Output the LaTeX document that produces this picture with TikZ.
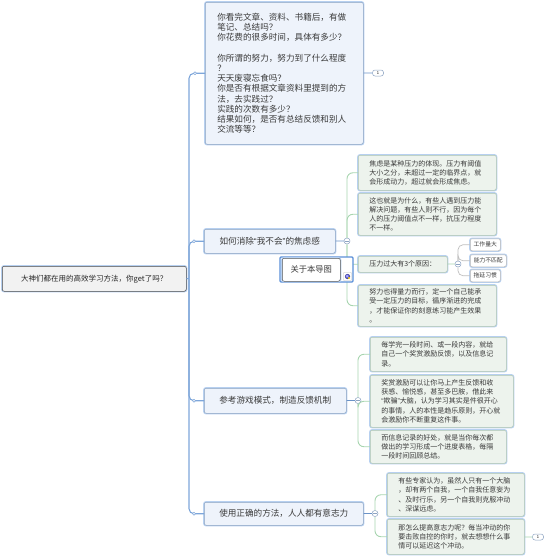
\documentclass[tikz,border=0pt]{standalone}
\usepackage{fontspec}
\setmainfont{Noto Sans CJK SC}
\newfontfamily\quotefont{Liberation Sans}
\newcommand{\openq}{{\quotefont “}}
\newcommand{\closeq}{{\quotefont ”}}
\usetikzlibrary{calc}

\definecolor{halo}{HTML}{B7D0F0}
\definecolor{topicline}{HTML}{8DA4C2}
\definecolor{topicfill}{HTML}{EEF3FB}
\definecolor{ideafill}{HTML}{EDF3ED}
\definecolor{idealine}{HTML}{B2C8B2}
\definecolor{rootfill}{HTML}{F2F2F2}
\definecolor{trunkblue}{HTML}{7EA6DA}
\definecolor{stemblue}{HTML}{6B93C8}
\definecolor{twiggreen}{HTML}{A8D5B0}
\definecolor{inkgray}{HTML}{3A3A3A}
\definecolor{selectblue}{HTML}{5A8FD8}

\begin{document}
\begin{tikzpicture}[x=1pt,y=-1pt,
  box/.style={rounded corners=2pt, line width=0.5pt,
    preaction={draw=halo, line width=2.4pt},
    anchor=north west, inner sep=0pt, text=inkgray},
  topic/.style={box, draw=topicline, fill=topicfill,
    font=\fontsize{8.6}{10.2}\selectfont},
  idea/.style={box, draw=idealine, fill=ideafill, align=left,
    inner xsep=11pt, font=\fontsize{7}{9.2}\selectfont},
  leaf/.style={box, draw=gray!55, fill=white, minimum height=12pt,
    font=\fontsize{5.8}{7}\selectfont},
  fold/.style={circle, draw=topicline, fill=white, line width=0.5pt,
    minimum size=6pt, inner sep=0pt,
    path picture={\draw[line width=0.5pt]
      ([xshift=1.4pt]path picture bounding box.west) --
      ([xshift=-1.4pt]path picture bounding box.east);}},
  count/.style={rounded corners=2.5pt, draw=topicline, fill=white,
    line width=0.5pt, minimum width=11pt, minimum height=6pt,
    inner sep=0pt, font=\fontsize{4}{4}\selectfont},
  trunk/.style={draw=trunkblue, line width=1.1pt},
  stem/.style={draw=stemblue, line width=0.8pt},
  twig/.style={draw=twiggreen, line width=0.9pt, rounded corners=6pt},
  sprig/.style={draw=gray!50, line width=0.7pt, rounded corners=5pt}
]
\useasboundingbox (0,0) rectangle (554,557);

% Root
\node[box, draw=gray!60!black, fill=rootfill, minimum width=184pt,
  minimum height=25pt, font=\fontsize{7.5}{9}\selectfont,
  text=gray!30!black] (root) at (2,266) {大神们都在用的高效学习方法，你get了吗？};

% Main branches
\node[topic, align=left, text width=134pt, inner xsep=12pt,
  minimum height=142pt] (b1) at (205,2) {你看完文章、资料、书籍后，有做\\
笔记、总结吗？\\
你花费的很多时间，具体有多少？\\[10.2pt]
你所谓的努力，努力到了什么程度\\
？\\
天天废寝忘食吗？\\
你是否有根据文章资料里提到的方\\
法，去实践过？\\
实践的次数有多少？\\
结果如何，是否有总结反馈和别人\\
交流等等？};
\node[topic, minimum width=131pt, minimum height=24pt] (b2) at (204,229)
  {如何消除\openq 我不会\closeq 的焦虑感};
\node[topic, minimum width=142pt, minimum height=25pt] (b3) at (204,388)
  {参考游戏模式，制造反馈机制};
\node[topic, minimum width=159pt, minimum height=23pt] (b4) at (204,502)
  {使用正确的方法，人人都有意志力};

% Folds
\node[fold] (fold2) at (347,241) {};
\node[fold] (fold3) at (358,400.5) {};
\node[fold] (fold4) at (375,513.5) {};
\node[fold] (foldc) at (458,264) {};
\node[count] (m1) at (378,73) {1};
\node[count] (m2) at (538,537) {1};

% Ideas under branch 2
\node[idea, text width=116pt, minimum height=35pt] (c1) at (358,155)
  {焦虑是某种压力的体现。压力有阈值\\
大小之分，未超过一定的临界点，就\\
会形成动力，超过就会形成焦虑。};
\node[idea, text width=116pt, minimum height=42pt] (c2) at (358,193)
  {这也就是为什么，有些人遇到压力能\\
解决问题，有些人则不行，因为每个\\
人的压力阈值点不一样，抗压力程度\\
不一样。};
\node[idea, text width=67pt, minimum height=16pt] (c3) at (358,256)
  {压力过大有3个原因：};
\node[idea, text width=116pt, minimum height=41pt] (c4) at (358,285)
  {努力也得量力而行，定一个自己能承\\
受一定压力的目标，循序渐进的完成\\
，才能保证你的刻意练习能产生效果\\
。};

% Causes
\node[leaf, minimum width=30pt] (l1) at (470,238.5) {工作量大};
\node[leaf, minimum width=36pt] (l2) at (470,254.5) {能力不匹配};
\node[leaf, minimum width=30pt] (l3) at (470,269.5) {拖延习惯};

% Ideas under branch 3
\node[idea, text width=114pt, minimum height=34pt] (d1) at (370,337)
  {每学完一段时间、或一段内容，就给\\
自己一个奖赏激励反馈，以及信息记\\
录。};
\node[idea, text width=121pt, minimum height=52pt] (d2) at (370,375)
  {奖赏激励可以让你马上产生反馈和收\\
获感、愉悦感，甚至多巴胺，借此来\\
\openq 欺骗\closeq 大脑，认为学习其实是件很开心\\
的事情，人的本性是趋乐原则，开心就\\
会激励你不断重复这件事。};
\node[idea, text width=114pt, minimum height=33pt] (d3) at (370,430)
  {而信息记录的好处，就是当你每次都\\
做出的学习形成一个进度表格，每隔\\
一段时间回顾总结。};

% Ideas under branch 4
\node[idea, text width=115pt, minimum height=43pt] (e1) at (387,473)
  {有些专家认为，虽然人只有一个大脑\\
，却有两个自我，一个自我任意妄为\\
、及时行乐，另一个自我则克服冲动\\
、深谋远虑。};
\node[idea, text width=115pt, minimum height=35pt] (e2) at (387,519)
  {那怎么提高意志力呢？每当冲动的你\\
要击败自控的你时，就去想想什么事\\
情可以延迟这个冲动。};

% Trunk
\coordinate (hub) at (189,278.5);
\draw[trunk] (root.east) -- (hub);
\foreach \b in {b1,b2,b3,b4} {
  \draw[trunk, rounded corners=5pt] (hub) |- (\b.west);
  \draw[trunk, line width=0.6pt, fill=white] ($(\b.west)+(-10,0)$) circle (1.5pt);
}

% Branch stems
\draw[stem] (b1) -- (m1);
\draw[stem] (b2) -- (fold2);
\draw[stem] (b3) -- (fold3);
\draw[stem] (b4) -- (fold4);

% Twigs
\foreach \c in {c1,c2,c3,c4} \draw[twig] (fold2) |- (\c.west);
\foreach \d in {d1,d2,d3} \draw[twig] (fold3) |- (\d.west);
\foreach \e in {e1,e2} \draw[twig] (fold4) |- (\e.west);
\draw[twig] (c3) -- (foldc);
\draw[twig] (e2) -- (m2);
\foreach \l in {l1,l2,l3} \draw[sprig] (foldc) |- (\l.west);

% About this map
\draw[selectblue, line width=1.1pt, fill=white, rounded corners=1pt]
  (280,257) rectangle (353,282);
\node[box, preaction={}, draw=gray!70!black, fill=white, minimum width=58pt,
  minimum height=23pt, font=\fontsize{8.3}{10}\selectfont] (about) at (282,258) {关于本导图};
\draw[gray!50, line width=0.4pt, fill=white, rounded corners=0.6pt]
  ($(about.south east)+(3,-9)$) rectangle ($(about.south east)+(11,-1)$);
\shade[ball color=blue!60] ($(about.south east)+(7,-5)$) circle (2.6pt);
\fill[yellow!70!orange] ($(about.south east)+(8.5,-3.5)$) circle (1.1pt);
\end{tikzpicture}
\end{document}
